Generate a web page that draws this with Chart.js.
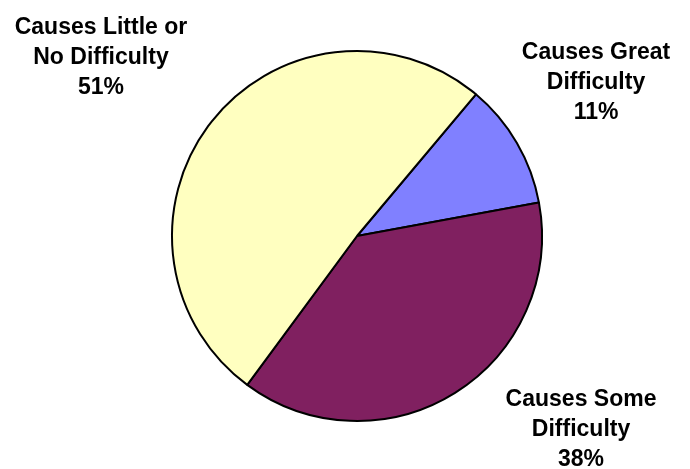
<!DOCTYPE html>
<html>
<head>
<meta charset="utf-8">
<script src="https://cdn.jsdelivr.net/npm/chart.js@4.4.0/dist/chart.umd.min.js"></script>
<style>
  html, body { margin: 0; padding: 0; background: #fff; }
  #wrap { width: 690px; height: 469px; position: relative; }
</style>
</head>
<body>
<div id="wrap"><canvas id="myChartPie"></canvas></div>
<script>
// data block
const categories = [
  ["Causes Great", "Difficulty"],
  ["Causes Some", "Difficulty"],
  ["Causes Little or", "No Difficulty"],
];
const percents = [11, 38, 51];
const sliceColors = ['#8080FF', '#802060', '#FFFFC0'];

// label spots relative to the pie centre, in units of the radius
const labelSpots = [
  { dx: 1.292, dy: -0.827 },
  { dx: 1.211, dy: 1.049 },
  { dx: -1.384, dy: -0.962 },
];

// draws the outside labels
const outsideLabels = {
  id: 'outsideLabels',
  afterDraw(chart) {
    const ctx = chart.ctx;
    const arcs = chart.getDatasetMeta(0).data;
    ctx.save();
    ctx.font = 'bold 23px "Liberation Sans", Arial, sans-serif';
    ctx.fillStyle = '#000';
    ctx.textAlign = 'center';
    ctx.textBaseline = 'middle';
    arcs.forEach((arc, i) => {
      const r = arc.outerRadius;
      const x = arc.x + labelSpots[i].dx * r;
      const y = arc.y + labelSpots[i].dy * r;
      const lines = categories[i].concat([percents[i] + '%']);
      lines.forEach((txt, j) => {
        ctx.fillText(txt, x, y + (j - 1) * 30);
      });
    });
    ctx.restore();
  }
};

// config block
let config = {
  type: "pie",
  data: {
    labels: categories.map(c => c.join(' ')),
    datasets: [
      {
        data: percents,
        backgroundColor: sliceColors,
        borderColor: '#000',
        borderWidth: 2,
      },
    ],
  },
  options: {
    responsive: true,
    maintainAspectRatio: false,
    animation: false,
    rotation: 40,
    layout: {
      padding: { left: 171, right: 147, top: 50, bottom: 47 },
    },
    plugins: {
      legend: { display: false },
      tooltip: { enabled: false },
    },
  },
  plugins: [outsideLabels],
};

// render block
let myChart = new Chart(
  document.getElementById("myChartPie"),
  config,
);
</script>
</body>
</html>
